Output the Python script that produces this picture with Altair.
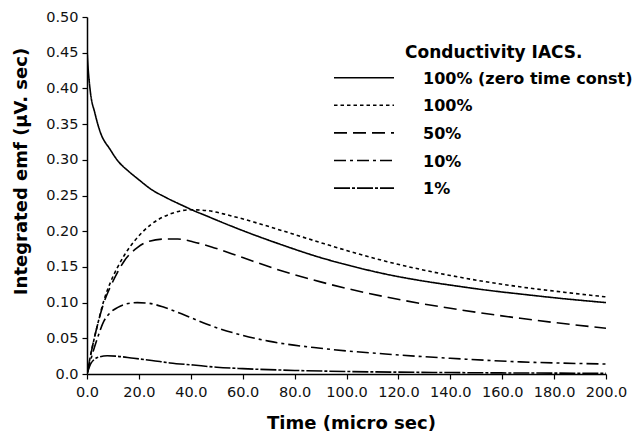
import altair as alt
import pandas as pd

# ---- data ----
series_names = ["100% (zero time const)", "100%", "50%", "10%", "1%"]

x_zero = [0, 0.4, 1.3, 3, 5, 9, 12, 16, 20, 25, 30, 38, 41, 45, 55, 65, 75, 90, 100, 115, 130, 141, 155, 167, 185, 200]
y_zero = [0.455, 0.43, 0.395, 0.366, 0.34, 0.314, 0.298, 0.284, 0.272, 0.258, 0.248, 0.234, 0.229, 0.223,
          0.208, 0.194, 0.181, 0.163, 0.153, 0.140, 0.130, 0.124, 0.117, 0.112, 0.105, 0.100]

x_100 = [0, 2, 4, 6.5, 9, 11.7, 14.5, 18, 24.5, 32, 40, 46, 55, 65, 75, 90, 100, 115, 140, 165, 185, 200]
y_100 = [0, 0.037, 0.068, 0.103, 0.128, 0.149, 0.167, 0.185, 0.209, 0.224, 0.23, 0.229, 0.222, 0.212, 0.201,
         0.184, 0.173, 0.158, 0.138, 0.123, 0.114, 0.108]

x_50 = [0, 2, 4, 6.5, 9, 11.7, 14.3, 19.4, 24, 30, 35, 41, 48, 60, 72, 90, 115, 140, 167, 200]
y_50 = [0, 0.037, 0.068, 0.1, 0.122, 0.142, 0.158, 0.177, 0.186, 0.189, 0.189, 0.185, 0.178, 0.163, 0.148,
        0.129, 0.108, 0.092, 0.078, 0.064]

x_10 = [0, 1, 2, 4, 6.5, 9, 11.7, 15, 19.4, 24, 30, 38, 46, 56, 70, 90, 115, 140, 167, 200]
y_10 = [0, 0.014, 0.027, 0.05, 0.074, 0.086, 0.093, 0.098, 0.1, 0.099, 0.093, 0.082, 0.07, 0.058, 0.046,
        0.036, 0.028, 0.022, 0.017, 0.014]

x_1 = [0, 1.4, 3, 5, 7.8, 11, 18, 25, 32, 41, 50, 60, 80, 100, 140, 200]
y_1 = [0, 0.014, 0.021, 0.024, 0.0255, 0.025, 0.022, 0.019, 0.0155, 0.0125, 0.0095, 0.0075, 0.005, 0.0035,
       0.002, 0.001]

legend_title = "Conductivity IACS."
x_title = "Time (micro sec)"
y_title = "Integrated emf (\u00b5V. sec)"

# ---- styles ----
dashes = [[1, 0], [3.5, 3], [13, 6], [12, 4, 3, 4], [16, 2, 3, 2]]

rows = []
for name, xs, ys in zip(series_names, [x_zero, x_100, x_50, x_10, x_1], [y_zero, y_100, y_50, y_10, y_1]):
    for xv, yv in zip(xs, ys):
        rows.append({"series": name, "t": xv, "emf": yv})
df = pd.DataFrame(rows)

FONT = "DejaVu Sans"
W, H = 519, 357

lines = alt.Chart(df).mark_line(color="black", strokeWidth=1.6, interpolate="monotone", clip=True).encode(
    x=alt.X("t:Q", scale=alt.Scale(domain=[0, 200], nice=False),
            axis=alt.Axis(values=list(range(0, 201, 20)), format=".1f", title=x_title,
                          labelOverlap=False, labelBound=False, labelFlush=False,
                          titleX=264, titleY=54, titleBaseline="alphabetic", titleAlign="center",
                          labelPadding=6, tickSize=5)),
    y=alt.Y("emf:Q", scale=alt.Scale(domain=[0, 0.5], nice=False),
            axis=alt.Axis(values=[i * 0.05 for i in range(11)], labelOverlap=False,
                          labelExpr="datum.value == 0 ? '0.0' : format(datum.value, '.2f')",
                          title=y_title, titleAngle=270, titleX=-66, titleY=154,
                          titleAlign="center", titleBaseline="middle",
                          labelPadding=4, tickSize=5)),
    strokeDash=alt.StrokeDash("series:N", scale=alt.Scale(domain=series_names, range=dashes), legend=None),
    detail="series:N",
)

# ---- hand-built legend (layout in pixels of the plot area) ----
one = pd.DataFrame({"k": [0]})
leg_layers = [
    alt.Chart(one).mark_text(text=legend_title, font=FONT, fontWeight="bold", fontSize=17,
                             align="left", baseline="alphabetic", color="black")
    .encode(x=alt.value(318), y=alt.value(41))
]
for i, name in enumerate(series_names):
    yy = 60.7 + i * 27.6
    leg_layers.append(
        alt.Chart(one).mark_rule(color="black", strokeWidth=1.6, strokeDash=dashes[i])
        .encode(x=alt.value(247), x2=alt.value(307), y=alt.value(yy))
    )
    leg_layers.append(
        alt.Chart(one).mark_text(text=name, font=FONT, fontWeight="bold", fontSize=16,
                                 align="left", baseline="alphabetic", color="black")
        .encode(x=alt.value(336), y=alt.value(yy + 6))
    )

chart = alt.layer(lines, *leg_layers).properties(
    width=W, height=H,
    autosize=alt.AutoSizeParams(type="none"),
    padding={"left": 87, "top": 17, "right": 32, "bottom": 60},
    background="white",
).configure_view(stroke=None).configure_axis(
    grid=False, domainColor="black", domainWidth=1.5, tickColor="black", tickWidth=1.2,
    labelFont=FONT, labelFontSize=14.5, labelColor="#111",
    titleFont=FONT, titleFontSize=18, titleFontWeight="bold", titleColor="black",
)

chart.save("out.html", embed_options={"renderer": "svg", "actions": False})
